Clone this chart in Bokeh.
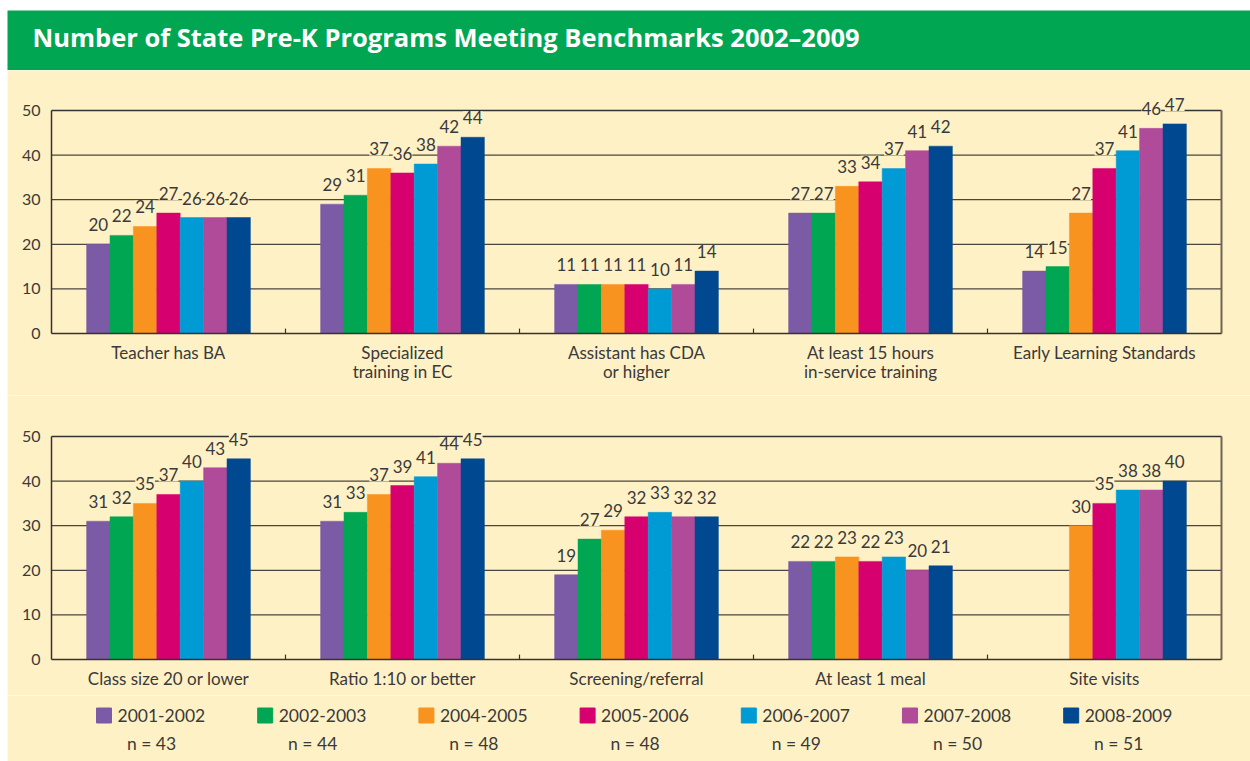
from bokeh.plotting import figure
from bokeh.models import ColumnDataSource, Range1d, FixedTicker, LabelSet
from bokeh.layouts import column
from bokeh.transform import dodge
from bokeh.core.properties import value
from bokeh.embed import file_html
from bokeh.resources import INLINE

# ---------------- data ----------------
years = ["2001-2002", "2002-2003", "2004-2005", "2005-2006", "2006-2007", "2007-2008", "2008-2009"]
n_states = [43, 44, 48, 48, 49, 50, 51]
colors = ["#7b5ba6", "#00a651", "#f7931e", "#d6006f", "#009bd5", "#b04b9a", "#004990"]

top_categories = ["Teacher has BA", "Specialized\ntraining in EC", "Assistant has CDA\nor higher",
                  "At least 15 hours\nin-service training", "Early Learning Standards"]
top_2001 = [20, 29, 11, 27, 14]
top_2002 = [22, 31, 11, 27, 15]
top_2004 = [24, 37, 11, 33, 27]
top_2005 = [27, 36, 11, 34, 37]
top_2006 = [26, 38, 10, 37, 41]
top_2007 = [26, 42, 11, 41, 46]
top_2008 = [26, 44, 14, 42, 47]

bottom_categories = ["Class size 20 or lower", "Ratio 1:10 or better", "Screening/referral",
                     "At least 1 meal", "Site visits"]
bottom_2001 = [31, 31, 19, 22, 0]
bottom_2002 = [32, 33, 27, 22, 0]
bottom_2004 = [35, 37, 29, 23, 30]
bottom_2005 = [37, 39, 32, 22, 35]
bottom_2006 = [40, 41, 33, 23, 38]
bottom_2007 = [43, 44, 32, 20, 38]
bottom_2008 = [45, 45, 32, 21, 40]

y_ticks = [0, 10, 20, 30, 40, 50]
grid_values = [10, 20, 30, 40]
y_max = 50
title_text = "Number of State Pre-K Programs Meeting Benchmarks 2002\u20132009"

top_values = [top_2001, top_2002, top_2004, top_2005, top_2006, top_2007, top_2008]
bottom_values = [bottom_2001, bottom_2002, bottom_2004, bottom_2005, bottom_2006, bottom_2007, bottom_2008]

# ---------------- style ----------------
FONT = "Lato"
CREAM = "#fff1c6"
GREEN = "#00a651"
TEXT = "#3a3a3a"
LINE = "#4a463c"
W = 1243
BL, BR = 44, 29           # space left / right of the plotting box
GROUP_PX = 234            # pixel width of one category group
PLOT_PX = 223             # pixel height of 0..50
PX_PER_UNIT = PLOT_PX / y_max


def panel(categories, series, height, above_px, below_px):
    n = len(categories)
    idx = list(range(n))
    lo, hi = -0.5, n - 0.5
    p = figure(x_range=Range1d(lo - BL / GROUP_PX, hi + BR / GROUP_PX),
               y_range=Range1d(-below_px / PX_PER_UNIT, (above_px + PLOT_PX) / PX_PER_UNIT),
               width=W, height=height,
               output_backend="svg", toolbar_location=None,
               min_border_left=0, min_border_right=0,
               min_border_top=0, min_border_bottom=0)
    p.background_fill_color = CREAM
    p.border_fill_color = CREAM
    p.outline_line_color = None
    p.grid.visible = False

    # grid lines and box
    p.segment(x0=lo, x1=hi, y0=grid_values, y1=grid_values, line_color=LINE, line_width=1.2)
    p.segment(x0=lo, x1=hi, y0=y_max, y1=y_max, line_color="#333333", line_width=1.5)
    p.segment(x0=hi, x1=hi, y0=0, y1=y_max, line_color="#6e6553", line_width=2)

    # y axis drawn at the left edge of the box
    p.yaxis.fixed_location = lo
    p.yaxis.bounds = (0, y_max)
    p.yaxis.ticker = FixedTicker(ticks=y_ticks)
    p.yaxis.major_tick_line_color = None
    p.yaxis.minor_tick_line_color = None
    p.yaxis.axis_line_color = "#333333"
    p.yaxis.axis_line_width = 1.5
    p.yaxis.major_label_text_font = FONT
    p.yaxis.major_label_text_font_size = "16px"
    p.yaxis.major_label_text_color = TEXT
    p.yaxis.major_label_standoff = 5

    # x axis with category names, drawn at y = 0
    p.xaxis.fixed_location = 0
    p.xaxis.bounds = (lo, hi)
    p.xaxis.ticker = FixedTicker(ticks=idx)
    p.xaxis.major_label_overrides = {i: c for i, c in zip(idx, categories)}
    p.xaxis.major_tick_line_color = None
    p.xaxis.minor_tick_line_color = None
    p.xaxis.axis_line_color = "#333333"
    p.xaxis.axis_line_width = 1.5
    p.xaxis.major_label_text_font = FONT
    p.xaxis.major_label_text_font_size = "17px"
    p.xaxis.major_label_text_color = TEXT
    p.xaxis.major_label_text_line_height = 0.93
    p.xaxis.major_label_standoff = 2

    # group separator ticks
    seps = [i + 0.5 for i in idx[:-1]]
    p.segment(x0=seps, y0=0, x1=seps, y1=1.1, line_color="#333333", line_width=1.2)

    for i, (yr, col, vals) in enumerate(zip(years, colors, series)):
        off = (i - 3) * 0.1
        src = ColumnDataSource(dict(x=idx, v=vals))
        p.vbar(x=dodge("x", off), top="v", width=0.1,
               source=src, fill_color=col, line_color=col, line_width=0.5)
        lab = ColumnDataSource(dict(x=[k for k, v in zip(idx, vals) if v > 0],
                                    v=[v for v in vals if v > 0],
                                    t=[str(v) for v in vals if v > 0]))
        p.add_layout(LabelSet(x=dodge("x", off), y="v", text="t", source=lab,
                              text_align="center", text_baseline="alphabetic", y_offset=13,
                              text_font=value(FONT), text_font_size="17px", text_color=TEXT,
                              background_fill_color=CREAM))
    return p


def blank(height, fill):
    f = figure(width=W, height=height, x_range=Range1d(0, W), y_range=Range1d(height, 0),
               output_backend="svg", toolbar_location=None,
               min_border_left=0, min_border_right=0, min_border_top=0, min_border_bottom=0)
    f.axis.visible = False
    f.grid.visible = False
    f.outline_line_color = None
    f.background_fill_color = fill
    f.border_fill_color = fill
    return f


# title bar
t = blank(60, GREEN)
t.text(x=[25], y=[26], text=[title_text], text_baseline="middle", text_align="left",
       text_font=value("Open Sans"), text_font_size="25.5px", text_font_style="bold",
       text_color="white")

# panels: (figure height, px above the 50 line, px below the 0 line)
p1 = panel(top_categories, top_values, 325, 40, 62)
p2 = panel(bottom_categories, bottom_values, 300, 41, 36)

# legend
lg = blank(66, CREAM)
xs = [89 + 161.2 * i for i in range(len(years))]
lg.rect(x=[x + 7.5 for x in xs], y=[20] * len(xs), width=15, height=15,
        fill_color=colors, line_color=colors)
lg.text(x=[x + 21 for x in xs], y=[20] * len(xs), text=years, text_baseline="middle",
        text_align="left", text_font=value(FONT), text_font_size="17.5px", text_color=TEXT)
lg.text(x=[x + 55 for x in xs], y=[48] * len(xs), text=["n = %d" % n for n in n_states],
        text_baseline="middle", text_align="center", text_font=value(FONT),
        text_font_size="17.5px", text_color=TEXT)

root = column(t, p1, p2, lg, spacing=0, margin=(10, 0, 0, 7))
open("out.html", "w").write(file_html(root, INLINE))
